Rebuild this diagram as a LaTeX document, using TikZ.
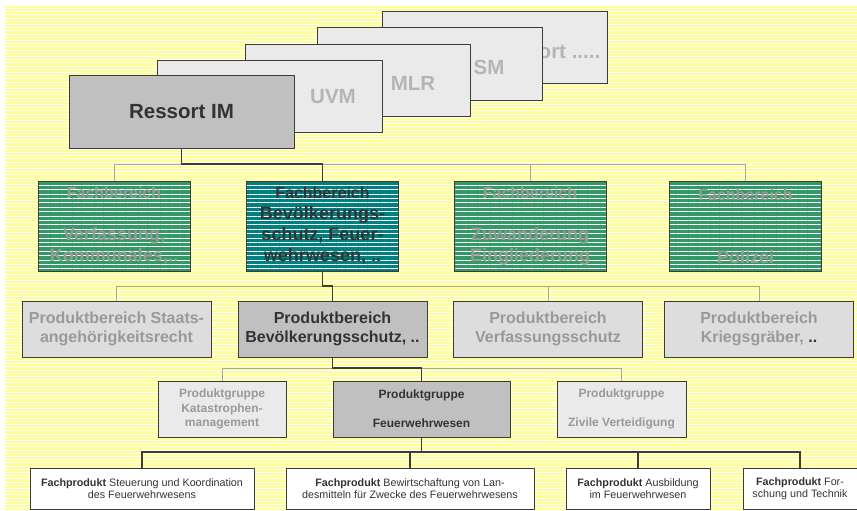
\documentclass[tikz,border=0pt]{standalone}
\usepackage{fontspec}
\setmainfont{Liberation Sans}
\usetikzlibrary{patterns.meta}

\definecolor{bgyellow}{HTML}{FFFF99}
\definecolor{fbgreen}{HTML}{339966}
\definecolor{fbteal}{HTML}{008080}
\definecolor{boxdark}{HTML}{C0C0C0}
\definecolor{boxlight}{HTML}{DDDDDD}
\definecolor{boxpale}{HTML}{EAEAEA}
\definecolor{txtdark}{HTML}{333333}
\definecolor{txtgray}{HTML}{999999}
\definecolor{txtpale}{HTML}{B4B4B4}
\definecolor{linedark}{HTML}{3C3C3C}
\definecolor{linegray}{HTML}{A6A6A6}

\newcommand{\fbhead}{{\fontsize{16}{21}\selectfont Fachbereich}}

\begin{document}
\begin{tikzpicture}[x=1pt, y=-1pt,
        ressort/.style={draw=linedark, line width=1pt, fill=boxpale, minimum width=225pt, minimum height=72pt, inner sep=0pt},
        ressorttext/.style={text=txtpale, font=\fontsize{20.5}{24}\selectfont\bfseries, inner sep=0pt},
        fachbereich/.style={draw=linedark, line width=1pt, preaction={fill=#1}, pattern={Lines[distance=4.4pt, line width=1pt]}, pattern color=white, minimum width=152pt, minimum height=90pt, inner sep=0pt, align=center, font=\fontsize{18}{21}\selectfont\bfseries, text=txtgray},
        pbereich/.style={draw=linedark, line width=1pt, fill=#1, minimum width=189pt, minimum height=56pt, inner sep=0pt, align=center, font=\fontsize{16}{19}\selectfont\bfseries, text=txtgray},
        pgruppe/.style={draw=linedark, line width=1pt, fill=#1, minimum height=56pt, inner sep=0pt, align=center, font=\fontsize{12}{14.5}\selectfont\bfseries, text=txtgray},
        fprodukt/.style={draw=linedark, line width=1pt, fill=white, minimum height=41pt, inner sep=0pt, align=center, font=\fontsize{10.75}{12.5}\selectfont, text=txtdark},
        graybus/.style={draw=linegray, line width=1pt},
        darkbus/.style={draw=linedark, line width=1.8pt}]

        \useasboundingbox (0,0) rectangle (857,511);
        \fill[bgyellow] (5,5) rectangle (857,511);
        \fill[pattern={Lines[distance=3.2pt, line width=1pt]}, pattern color=white] (5,5) rectangle (857,511);

        \node[ressort] (rmore) at (494.5,48) {};
        \node[ressorttext] (rmoretext) at (545,52) {Ressort .....};
        \node[ressort] (rsm) at (429.5,64) {};
        \node[ressorttext] (rsmtext) at (489,67) {SM};
        \node[ressort] (rmlr) at (358,80.5) {};
        \node[ressorttext] (rmlrtext) at (413,83) {MLR};
        \node[ressort] (ruvm) at (270,96.5) {};
        \node[ressorttext] (ruvmtext) at (333,97) {UVM};
        \node[ressort, fill=boxdark, text=txtdark, font=\fontsize{20.5}{24}\selectfont\bfseries] (rim) at (181.5,112) {Ressort IM};

        \node[fachbereich=fbgreen] (fb1) at (114,226) {\fbhead\\~\\Verfassung,\\Kommunales,..};
        \node[fachbereich=fbteal, text=txtdark] (fb2) at (322.5,226) {\fbhead\\Bevölkerungs-\\schutz, Feuer-\\wehrwesen, ..};
        \node[fachbereich=fbgreen] (fb3) at (530,226) {\fbhead\\~\\Zuwanderung\\Eingliederung};
        \node[fachbereich=fbgreen] (fb4) at (745.5,226) {\fbhead\\~\\~\\Polizei};

        \node[pbereich=boxlight] (pb1) at (116.5,329) {Produktbereich Staats-\\angehörigkeitsrecht};
        \node[pbereich=boxdark, text=txtdark] (pb2) at (332.5,329) {Produktbereich\\Bevölkerungsschutz, ..};
        \node[pbereich=boxlight] (pb3) at (548,329) {Produktbereich\\Verfassungsschutz};
        \node[pbereich=boxlight] (pb4) at (759,329) {Produktbereich\\Kriegsgräber, {\color{txtdark}..}};

        \node[pgruppe=boxpale, minimum width=128pt, text=txtpale!85!black] (pg1) at (222,409) {Produktgruppe\\Katastrophen-\\management};
        \node[pgruppe=boxdark, minimum width=177pt, text=txtdark] (pg2) at (421.5,409) {Produktgruppe\\~\\Feuerwehrwesen};
        \node[pgruppe=boxpale, minimum width=129pt, text=txtpale!85!black] (pg3) at (621.5,409) {Produktgruppe\\~\\Zivile Verteidigung};

        \node[fprodukt, minimum width=224pt] (fp1) at (142,488.5) {\textbf{Fachprodukt} Steuerung und Koordination\\des Feuerwehrwesens};
        \node[fprodukt, minimum width=248pt] (fp2) at (410,488.5) {\textbf{Fachprodukt} Bewirtschaftung von Lan-\\desmitteln für Zwecke des Feuerwehrwesens};
        \node[fprodukt, minimum width=144pt] (fp3) at (638,488.5) {\textbf{Fachprodukt} Ausbildung\\im Feuerwehrwesen};
        \node[fprodukt, minimum width=114pt] (fp4) at (800,488.5) {\textbf{Fachprodukt} For-\\schung und Technik};

        \coordinate (lvl1) at (0,164);
        \coordinate (lvl2) at (0,286);
        \coordinate (lvl3) at (0,368);
        \coordinate (lvl4) at (0,452);

        \draw[graybus] (fb1.north) |- (lvl1 -| fb4.north) -- (fb4.north);
        \draw[graybus] (fb3.north) -- (fb3.north |- lvl1);
        \draw[darkbus] (rim.south) |- (lvl1 -| fb2.north) -- (fb2.north);

        \draw[graybus] (pb1.north) |- (lvl2 -| pb4.north) -- (pb4.north);
        \draw[graybus] (pb3.north) -- (pb3.north |- lvl2);
        \draw[darkbus] (fb2.south) |- (lvl2 -| pb2.north) -- (pb2.north);

        \draw[graybus] (pg1.north) |- (lvl3 -| pg3.north) -- (pg3.north);
        \draw[darkbus] (pb2.south) |- (lvl3 -| pg2.north) -- (pg2.north);

        \draw[darkbus] (fp1.north) |- (lvl4 -| fp4.north) -- (fp4.north);
        \draw[darkbus] (fp2.north) -- (fp2.north |- lvl4);
        \draw[darkbus] (fp3.north) -- (fp3.north |- lvl4);
        \draw[darkbus] (pg2.south) -- (pg2.south |- lvl4);

\end{tikzpicture}
\end{document}
